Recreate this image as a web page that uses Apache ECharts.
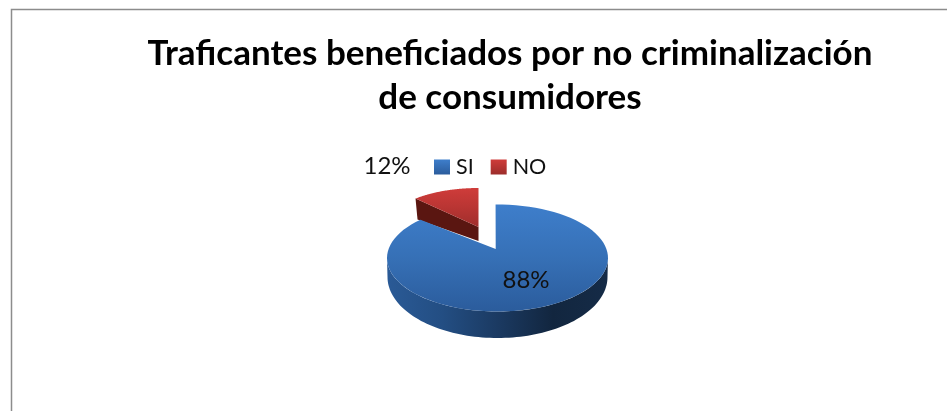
<!DOCTYPE html>
<html><head><meta charset="utf-8">
<style>html,body{margin:0;padding:0;background:#fff}#c{width:947px;height:411px}</style>
<script src="https://cdn.jsdelivr.net/npm/echarts@6/dist/echarts.min.js"></script>
</head><body><div id="c"></div>
<script>
const titleText = 'Traficantes beneficiados por no criminalización\nde consumidores';
const categories = ['SI', 'NO'];
const values = [88, 12];
const total = values[0] + values[1];
const FONT = 'Lato';
const chart = echarts.init(document.getElementById('c'));
const grad = (x2, y2, stops) => new echarts.graphic.LinearGradient(0, 0, x2, y2,
  stops.map((c, i) => ({ offset: i / (stops.length - 1), color: c })));
const rad = d => d * Math.PI / 180;

function arc(g, from, to) {
  const pts = [], n = 90;
  for (let i = 0; i <= n; i++) {
    const a = rad(from + (to - from) * i / n - g.skew);
    pts.push([g.cx + g.rx * Math.sin(a), g.cy - g.ry * Math.cos(a)]);
  }
  return pts;
}

function renderSI(params, api) {
  const sweep = 360 * api.value(0) / total;
  const g = { cx: 497.5, cy: 258, rx: 110.5, ry: 53.5, skew: 1 };
  const low = { cx: 497.5, cy: 277, rx: 110, ry: 61, skew: 0 };
  const top = [[495.7, 249]].concat(arc(g, 0, sweep));
  const side = arc(g, 90, 270).concat(arc(low, 270, 90));
  return { type: 'group', children: [
    { type: 'polygon', shape: { points: side },
      style: { fill: grad(1, 0, ['#2a5a96', '#234e83', '#1b3a62', '#12263f', '#152b47']) } },
    { type: 'polygon', shape: { points: top },
      style: { fill: grad(0, 1, ['#3e7ecb', '#3670b6', '#2b5c9c']) } },
    { type: 'text', x: 526, y: 280, style: { text: api.value(0) + '%', font: '24px ' + FONT, fill: '#111', align: 'center', verticalAlign: 'middle' } }
  ] };
}

function renderNO(params, api) {
  const sweep = 360 * api.value(0) / total;
  const apex = [478.5, 227];
  const g = { cx: apex[0], cy: apex[1], rx: 92, ry: 39, skew: 0 };
  const depth = 14;
  const rim = arc(g, -sweep, 0);
  const leftPt = rim[0];
  const wall = [leftPt, apex, [apex[0], apex[1] + depth], [leftPt[0] + 2, leftPt[1] + 21]];
  return { type: 'group', children: [
    { type: 'polygon', shape: { points: wall }, style: { fill: '#5a1611' } },
    { type: 'polygon', shape: { points: [apex].concat(rim) },
      style: { fill: grad(0, 1, ['#cf3c3a', '#b93533', '#a02e2c']) } },
    { type: 'text', x: 387, y: 166, style: { text: api.value(0) + '%', font: '24px ' + FONT, fill: '#111', align: 'center', verticalAlign: 'middle' } }
  ] };
}

chart.setOption({
  animation: false,
  backgroundColor: '#fff',
  title: { text: titleText, left: 505, top: 27, textAlign: 'center',
    textStyle: { fontFamily: FONT, fontWeight: 'bold', fontSize: 35, lineHeight: 44, color: '#000' } },
  legend: { left: 434, top: 156, itemWidth: 16, itemHeight: 15, itemGap: 17, padding: 0,
    icon: 'rect', data: categories,
    textStyle: { fontFamily: FONT, fontSize: 21.5, color: '#111', padding: [0, 0, 0, 1] } },
  graphic: [{ type: 'polyline', silent: true,
    shape: { points: [[11.5, 411], [11.5, 9.5], [947, 9.5]] },
    style: { stroke: '#8c8c8c', lineWidth: 1.5, fill: null } }],
  series: [
    { type: 'custom', name: categories[1], coordinateSystem: 'none', renderItem: renderNO, data: [[values[1]]],
      itemStyle: { color: grad(0, 1, ['#cf3c3a', '#9c2d2b']) } },
    { type: 'custom', name: categories[0], coordinateSystem: 'none', renderItem: renderSI, data: [[values[0]]],
      itemStyle: { color: grad(0, 1, ['#3e7ecb', '#2b5c9c']) } }
  ]
});
</script></body></html>
